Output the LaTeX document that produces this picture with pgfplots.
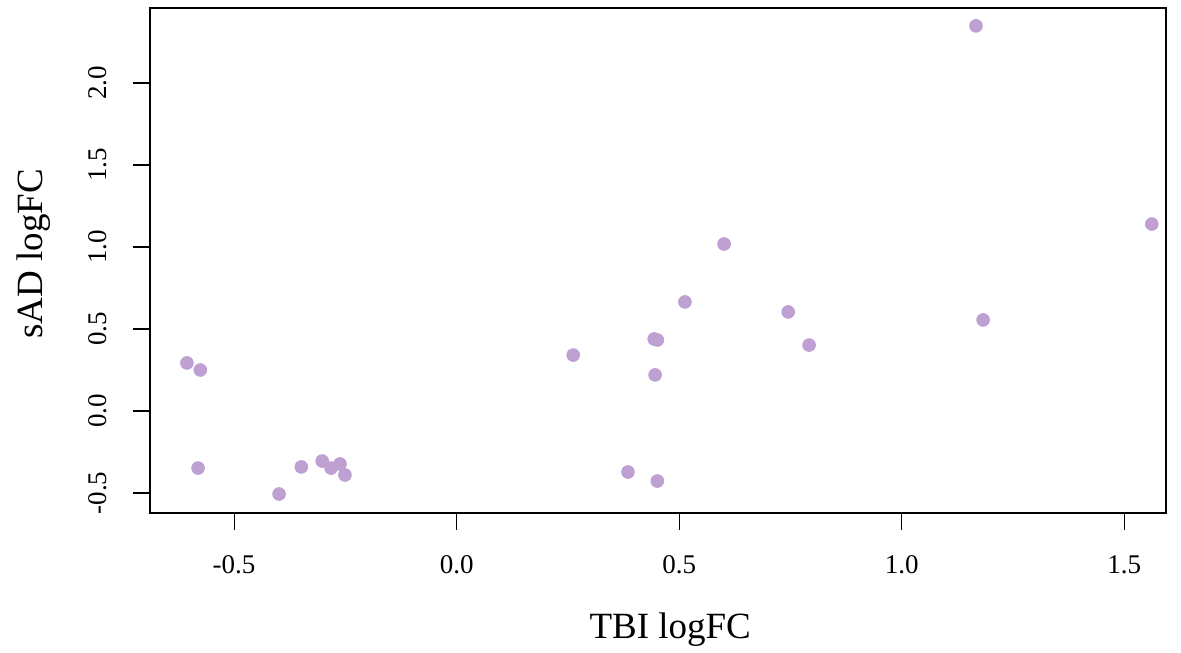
\documentclass[border=0pt]{standalone}
\usepackage{fontspec}
\setmainfont{Liberation Serif}
\usepackage{pgfplots}
\pgfplotsset{compat=1.18}
\definecolor{ptcol}{HTML}{BFA0D2}
\begin{document}
\begin{tikzpicture}[x=1pt,y=1pt]
\begin{axis}[
  name=ax,
  at={(0,0)}, anchor=south west,
  scale only axis,
  width=508pt, height=252.5pt,
  xmin=-0.689, xmax=1.594,
  ymin=-0.622, ymax=2.457,
  xtick={-0.5,0,0.5,1,1.5},
  ytick={-0.5,0,0.5,1,1.5,2},
  xticklabels={-0.5,0.0,0.5,1.0,1.5},
  yticklabels={-0.5,0.0,0.5,1.0,1.5,2.0},
  xtick pos=bottom, ytick pos=left,
  tick align=outside,
  major tick length=8.5pt,
  tick style={black, line width=0.6pt},
  axis line style={line width=0.7pt},
  /pgf/number format/assume math mode=true,
  tick label style={font=\fontsize{13.5}{14}\selectfont},
  xticklabel style={anchor=base, yshift=-21.5pt},
  yticklabel style={rotate=90, anchor=base, yshift=13pt},
  xlabel={TBI logFC},
  ylabel={sAD logFC},
  label style={font=\fontsize{18.5}{20}\selectfont},
  xlabel style={at={(axis description cs:0.512,0)}, anchor=base, yshift=-62.5pt},
  ylabel style={at={(axis description cs:0,0.513)}, anchor=base, yshift=53.5pt},
  clip=false,
]
\addplot[only marks, color=ptcol, mark=*, mark size=3.2pt, mark options={draw=ptcol, fill=ptcol}]
coordinates {
(-0.606,0.293) (-0.576,0.250) (-0.581,-0.348) (-0.399,-0.506)
(-0.349,-0.341) (-0.302,-0.305) (-0.282,-0.348) (-0.262,-0.323)
(-0.251,-0.390) (0.262,0.341) (0.385,-0.372) (0.444,0.439)
(0.451,0.433) (0.446,0.220) (0.451,-0.427) (0.513,0.665)
(0.601,1.018) (0.745,0.604) (0.792,0.402) (1.167,2.348)
(1.183,0.555) (1.562,1.140)
};
\end{axis}
\useasboundingbox (-75pt,-66.5pt) rectangle (515.5pt,256.5pt);
\end{tikzpicture}
\end{document}
